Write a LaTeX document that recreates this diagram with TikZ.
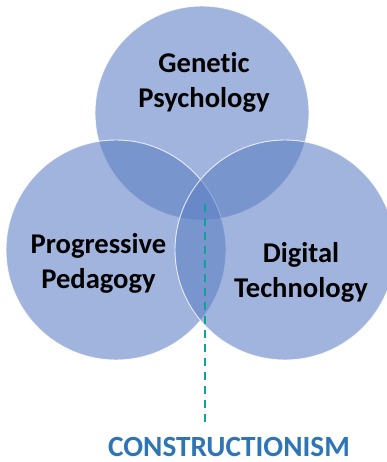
\documentclass[tikz,border=0pt]{standalone}
\usepackage{fontspec}
\setmainfont{Carlito}[Ligatures=NoCommon]
\usetikzlibrary{positioning}
\definecolor{cdisc}{RGB}{92,126,196}
\definecolor{cteal}{RGB}{20,160,150}
\definecolor{cnavy}{RGB}{46,117,182}
\tikzset{
  every picture/.style={font=\bfseries},
  disc/.style={circle, minimum size=#1, inner sep=0pt, fill=cdisc, fill opacity=0.58, draw=white, draw opacity=0.8, line width=0.9pt},
  disc/.default=216pt,
  label/.style={align=center, inner sep=0pt, text=black, font=\bfseries\fontsize{28.6}{35}\selectfont},
  link/.style={draw=cteal, line width=2.4pt, dash pattern=on 8pt off 6pt},
  title/.style={text=cnavy, inner sep=0pt, font=\bfseries\fontsize{29.3}{30}\selectfont},
}
\begin{document}
\begin{tikzpicture}[x=1pt, y=-1pt]
  \useasboundingbox (0,0) rectangle (387,462);
  % three overlapping fields
  \node[disc=214pt] (gen) at (202,113) {};
  \node[disc=220pt] (prog) at (116,250) {};
  \node[disc=220pt] (dig) at (285,250) {};
  % field names
  \node[label] (genL) at (204,82.5) {Genetic\\Psychology};
  \node[label] (progL) at (98.5,263.5) {Progressive\\Pedagogy};
  \node[label] (digL) at (301,272.5) {Digital\\Technology};
  % the common core
  \coordinate (core) at (205,204);
  \node[title, anchor=base] (cons) at (229,456) {CONSTRUCTIONISM};
  \draw[link] (core) -- (core |- 0,424);
\end{tikzpicture}
\end{document}
